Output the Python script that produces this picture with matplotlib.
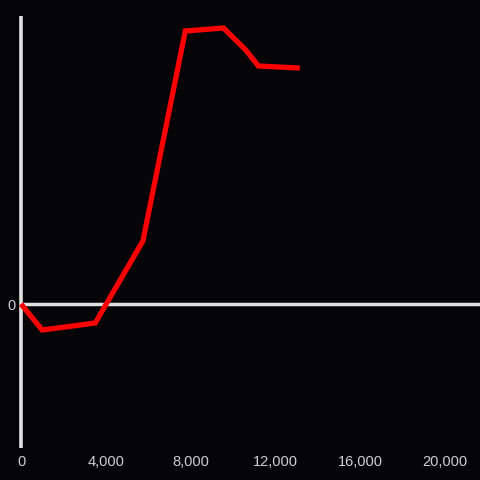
import matplotlib
matplotlib.use("Agg")
import matplotlib.pyplot as plt
from matplotlib.ticker import FuncFormatter

# Data (y in arbitrary units, 0 = baseline)
x_vals = [0, 1000, 3500, 5750, 7750, 9550, 10600, 11200, 13150]
y_vals = [0, -26, -19, 63, 273, 276, 254, 238, 236]
x_ticks = [0, 4000, 8000, 12000, 16000, 20000]
y_ticks = [0]

bg = '#050407'
axis_col = '#e0e0e0'
label_col = '#cfcfcf'

fig = plt.figure(figsize=(4.8, 4.8), dpi=100, facecolor=bg)
ax = fig.add_axes([21 / 480, 32 / 480, 459 / 480, 432 / 480])
ax.set_facecolor(bg)

ax.set_xlim(0, 21650)
ax.set_ylim(-144, 288)

# axis lines
ax.axvline(0, color=axis_col, linewidth=2.6, zorder=1, clip_on=False,
           solid_capstyle='butt')
ax.axhline(0, color=axis_col, linewidth=2.5, zorder=1, solid_capstyle='butt')

ax.plot(x_vals, y_vals, color='#ff0000', linewidth=3.8, solid_joinstyle='miter',
        solid_capstyle='butt', zorder=3, clip_on=False)

for s in ax.spines.values():
    s.set_visible(False)

ax.set_xticks(x_ticks)
ax.xaxis.set_major_formatter(FuncFormatter(lambda v, p: f"{int(v):,}"))
ax.set_yticks(y_ticks)
ax.tick_params(axis='both', length=0, colors=label_col, labelsize=10.5)
ax.tick_params(axis='x', pad=5)
ax.tick_params(axis='y', pad=4)
for lbl in ax.get_xticklabels() + ax.get_yticklabels():
    lbl.set_fontfamily('Liberation Sans')

fig.savefig('out.png', dpi=100, facecolor=bg)
